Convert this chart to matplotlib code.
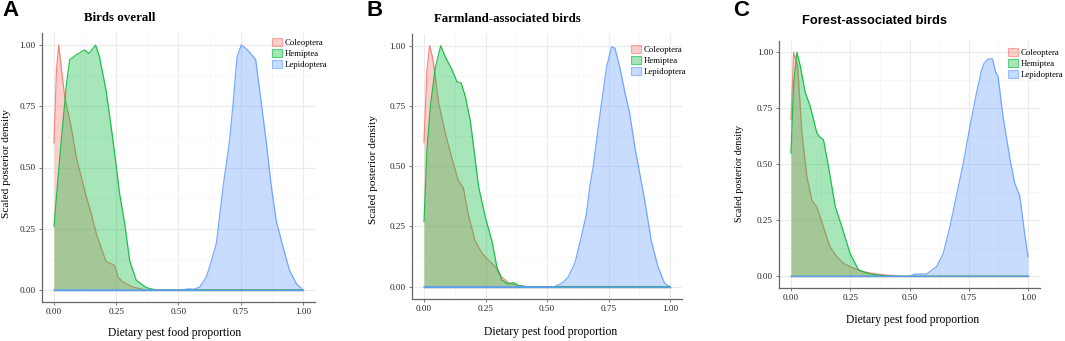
import matplotlib.pyplot as plt
from matplotlib.patches import Patch
from matplotlib.colors import to_rgba
from matplotlib.ticker import FixedLocator, FormatStrFormatter

species = ["Coleoptera", "Hemiptea", "Lepidoptera"]
colors = ["#F8766D", "#00BA38", "#619CFF"]
ticks = [0.0, 0.25, 0.5, 0.75, 1.0]

# panel A - birds overall
a_col_x = [0, 0.01, 0.019, 0.03, 0.043, 0.05, 0.07, 0.09, 0.11, 0.13, 0.15, 0.17, 0.197, 0.21, 0.23,
           0.244, 0.257, 0.277, 0.317, 0.37, 1.0]
a_col_y = [0.60, 0.90, 1.00, 0.90, 0.79, 0.755, 0.66, 0.54, 0.46, 0.38, 0.31, 0.23, 0.15, 0.115, 0.107,
           0.10, 0.053, 0.033, 0.012, 0.0, 0.0]
a_hem_x = [0, 0.023, 0.05, 0.063, 0.09, 0.123, 0.14, 0.167, 0.183, 0.21, 0.237, 0.264, 0.284, 0.304,
           0.33, 0.37, 0.41, 1.0]
a_hem_y = [0.26, 0.54, 0.84, 0.94, 0.96, 0.98, 0.965, 1.0, 0.95, 0.81, 0.61, 0.39, 0.27, 0.12,
           0.04, 0.01, 0.0, 0.0]
a_lep_x = [0, 0.50, 0.53, 0.545, 0.56, 0.585, 0.61, 0.625, 0.652, 0.665, 0.68, 0.69, 0.705, 0.72, 0.735,
           0.752, 0.772, 0.79, 0.81, 0.826, 0.853, 0.873, 0.893, 0.92, 0.946, 0.973, 1.0]
a_lep_y = [0, 0, 0.003, 0.005, 0.003, 0.012, 0.05, 0.094, 0.19, 0.30, 0.43, 0.50, 0.61, 0.77, 0.95,
           1.0, 0.985, 0.965, 0.94, 0.815, 0.60, 0.42, 0.28, 0.175, 0.08, 0.026, 0.0]

# panel B - farmland-associated birds
b_col_x = [0, 0.012, 0.023, 0.035, 0.046, 0.06, 0.086, 0.114, 0.14, 0.16, 0.18, 0.208, 0.235, 0.262,
           0.29, 0.316, 0.343, 0.38, 0.42, 1.0]
b_col_y = [0.60, 0.90, 1.00, 0.95, 0.87, 0.76, 0.64, 0.53, 0.44, 0.41, 0.30, 0.19, 0.14, 0.11,
           0.083, 0.04, 0.017, 0.005, 0.0, 0.0]
b_hem_x = [0, 0.012, 0.026, 0.046, 0.068, 0.086, 0.114, 0.134, 0.151, 0.168, 0.188, 0.2, 0.222, 0.249,
           0.276, 0.296, 0.316, 0.343, 0.364, 0.384, 0.42, 1.0]
b_hem_y = [0.27, 0.57, 0.75, 0.91, 1.0, 0.955, 0.90, 0.85, 0.845, 0.79, 0.69, 0.595, 0.415, 0.29,
           0.19, 0.083, 0.028, 0.011, 0.017, 0.005, 0.0, 0.0]
b_lep_x = [0, 0.53, 0.56, 0.586, 0.614, 0.64, 0.66, 0.674, 0.688, 0.70, 0.72, 0.742, 0.762, 0.776,
           0.796, 0.816, 0.836, 0.857, 0.877, 0.897, 0.924, 0.951, 0.978, 1.0]
b_lep_y = [0, 0, 0.014, 0.04, 0.10, 0.21, 0.30, 0.415, 0.50, 0.595, 0.75, 0.91, 0.995, 0.99,
           0.91, 0.81, 0.72, 0.58, 0.47, 0.36, 0.19, 0.083, 0.014, 0.0]

# panel C - forest-associated birds
c_col_x = [0, 0.011, 0.028, 0.046, 0.067, 0.088, 0.109, 0.137, 0.165, 0.193, 0.222, 0.264, 0.306,
           0.362, 0.418, 0.474, 1.0]
c_col_y = [0.70, 1.0, 0.94, 0.64, 0.445, 0.34, 0.31, 0.22, 0.13, 0.088, 0.058, 0.036, 0.02,
           0.01, 0.004, 0.0, 0.0]
c_hem_x = [0, 0.011, 0.025, 0.039, 0.06, 0.081, 0.109, 0.123, 0.137, 0.158, 0.187, 0.215, 0.25,
           0.285, 0.334, 0.39, 0.44, 1.0]
c_hem_y = [0.55, 0.86, 1.0, 0.94, 0.82, 0.76, 0.64, 0.62, 0.61, 0.49, 0.31, 0.22, 0.10,
           0.028, 0.01, 0.003, 0.0, 0.0]
c_lep_x = [0, 0.50, 0.523, 0.572, 0.614, 0.642, 0.67, 0.698, 0.726, 0.755, 0.783, 0.804, 0.814,
           0.832, 0.85, 0.864, 0.874, 0.895, 0.923, 0.944, 0.965, 0.986, 1.0]
c_lep_y = [0, 0, 0.01, 0.01, 0.043, 0.10, 0.22, 0.36, 0.50, 0.67, 0.82, 0.92, 0.95,
           0.97, 0.97, 0.91, 0.89, 0.71, 0.53, 0.415, 0.36, 0.19, 0.088]

panels = [
    dict(letter="A", title="Birds overall", tfont="Liberation Serif",
         series=[(a_col_x, a_col_y), (a_hem_x, a_hem_y), (a_lep_x, a_lep_y)],
         px=(54, 303, 290, 45), title_xy=(120, 18), letter_x=2,
         xlab=(175, 333), ylab=(7, 163), leg=(272, 38), ylab_size=8.2),
    dict(letter="B", title="Farmland-associated birds", tfont="Liberation Serif",
         series=[(b_col_x, b_col_y), (b_hem_x, b_hem_y), (b_lep_x, b_lep_y)],
         px=(424, 670, 286.7, 45.7), title_xy=(507, 19.5), letter_x=367,
         xlab=(551, 332.5), ylab=(374, 169), leg=(631, 45), ylab_size=8.2),
    dict(letter="C", title="Forest-associated birds", tfont="Liberation Sans",
         series=[(c_col_x, c_col_y), (c_hem_x, c_hem_y), (c_lep_x, c_lep_y)],
         px=(791, 1028, 276.3, 52.3), title_xy=(874, 21.5), letter_x=733,
         xlab=(913, 320), ylab=(740, 173), leg=(1008, 48), ylab_size=7.2),
]

plt.rcParams['font.family'] = 'Liberation Serif'
W, H = 1065, 341
fig = plt.figure(figsize=(W / 100, H / 100), dpi=100)

for p in panels:
    x0, x1, y0, y1 = p["px"]
    sx, sy = x1 - x0, y0 - y1
    left, right = x0 - 0.05 * sx, x1 + 0.05 * sx
    bottom, top = y0 + 0.05 * sy, y1 - 0.05 * sy
    ax = fig.add_axes([left / W, 1 - bottom / H, (right - left) / W, (bottom - top) / H])
    ax.set_xlim(-0.05, 1.05)
    ax.set_ylim(-0.05, 1.05)

    # each group: fill then outline, so later fills cover earlier outlines (ggplot order)
    z = 2
    for (xs, ys), c in zip(p["series"], colors):
        ax.fill_between(xs, 0, ys, color=c, alpha=0.35, lw=0, zorder=z)
        ax.plot(xs, ys, color=c, lw=0.9, alpha=0.85, zorder=z + 0.5)
        ax.plot([0, 1], [0, 0], color=c, lw=0.9, alpha=0.85, zorder=z + 0.5)
        z += 1

    ax.xaxis.set_major_locator(FixedLocator(ticks))
    ax.yaxis.set_major_locator(FixedLocator(ticks))
    ax.xaxis.set_minor_locator(FixedLocator([0.125, 0.375, 0.625, 0.875]))
    ax.yaxis.set_minor_locator(FixedLocator([0.125, 0.375, 0.625, 0.875]))
    ax.xaxis.set_major_formatter(FormatStrFormatter('%.2f'))
    ax.yaxis.set_major_formatter(FormatStrFormatter('%.2f'))
    ax.grid(which='major', color='#ebebeb', lw=0.8, zorder=0)
    ax.grid(which='minor', color='#f4f4f4', lw=0.5, zorder=0)
    ax.set_axisbelow(True)
    for s in ['top', 'right']:
        ax.spines[s].set_visible(False)
    for s in ['left', 'bottom']:
        ax.spines[s].set_color('#666666')
        ax.spines[s].set_linewidth(0.9)
    ax.tick_params(which='major', length=2.5, width=0.6, color='#666666', labelsize=6.6,
                   labelcolor='#222222', pad=2)
    ax.tick_params(which='minor', length=0)

    handles = [Patch(facecolor=to_rgba(c, 0.35), edgecolor=to_rgba(c, 0.6), lw=0.8) for c in colors]
    ax.legend(handles, species, loc='upper left', frameon=False, fontsize=6.3,
              bbox_to_anchor=(p["leg"][0] / W, 1 - p["leg"][1] / H), bbox_transform=fig.transFigure,
              handlelength=1.1, handleheight=1.1, labelspacing=0.2, handletextpad=0.3,
              borderpad=0, borderaxespad=0)

    fig.text(p["letter_x"] / W, 1 - 10 / H, p["letter"], family='Liberation Sans',
             weight='bold', fontsize=16, ha='left', va='center')
    fig.text(p["title_xy"][0] / W, 1 - p["title_xy"][1] / H, p["title"], family=p["tfont"],
             weight='bold', fontsize=9.3, ha='center', va='center')
    fig.text(p["xlab"][0] / W, 1 - p["xlab"][1] / H, "Dietary pest food proportion",
             fontsize=8.4, ha='center', va='center')
    fig.text(p["ylab"][0] / W, 1 - p["ylab"][1] / H, "Scaled posterior density",
             fontsize=p["ylab_size"], ha='center', va='center', rotation=90)

fig.savefig("out.png", dpi=100)
